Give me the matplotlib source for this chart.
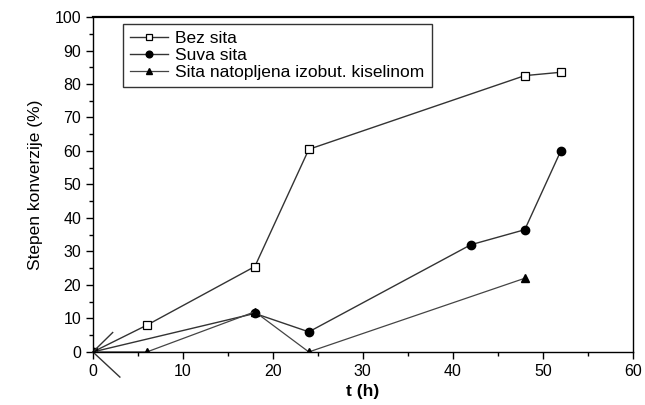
import matplotlib.pyplot as plt
import numpy as np
from matplotlib.ticker import MultipleLocator

plt.rcParams['font.family'] = ['Liberation Sans', 'DejaVu Sans']

# data
t_bez = [0, 6, 18, 24, 48, 52]
y_bez = [0, 8, 25.5, 60.5, 82.5, 83.5]

t_suva = [0, 18, 24, 42, 48, 52]
y_suva = [0, 11.5, 6, 32, 36.5, 60]

t_sita = [0, 6, 18, 24, 48]
y_sita = [0, 0, 12, 0, 22]

labels = ['Bez sita', 'Suva sita', 'Sita natopljena izobut. kiselinom']

fig = plt.figure(figsize=(6.45, 4.05), dpi=100)
ax = fig.add_axes([0.144, 0.131, 0.837, 0.827])

ax.plot(t_bez, y_bez, '-', color='#333333', lw=1.0, marker='s', ms=6,
        mfc='white', mec='black', mew=0.9, label=labels[0])
ax.plot(t_suva, y_suva, '-', color='#333333', lw=1.0, marker='o', ms=6,
        mfc='black', mec='black', label=labels[1])
ax.plot(t_sita, y_sita, '-', color='#444444', lw=0.9, marker='^', ms=6,
        mfc='black', mec='black', label=labels[2])

# little pointer lines at the origin
ax.plot([0, 2.2], [0, 5.8], color='#333333', lw=1.0, clip_on=False)
ax.plot([0, 3.0], [0, -7.5], color='#333333', lw=1.0, clip_on=False)

ax.set_xlim(0, 60)
ax.set_ylim(0, 100)
ax.xaxis.set_major_locator(MultipleLocator(10))
ax.xaxis.set_minor_locator(MultipleLocator(5))
ax.yaxis.set_major_locator(MultipleLocator(10))
ax.yaxis.set_minor_locator(MultipleLocator(5))
ax.tick_params(which='major', direction='out', length=5, width=1, labelsize=11.5)
ax.tick_params(which='minor', direction='out', length=3, width=1)
ax.tick_params(top=False, right=False)
for s in ax.spines.values():
    s.set_linewidth(1.0)
ax.spines['top'].set_linewidth(1.6)

ax.set_xlabel('t (h)', fontsize=12.5, fontweight='bold', labelpad=4)
ax.set_ylabel('Stepen konverzije (%)', fontsize=12.5, labelpad=8)

leg = ax.legend(loc='upper left', bbox_to_anchor=(0.05, 0.99), fontsize=12.5,
                frameon=True, fancybox=False, edgecolor='black',
                handlelength=2.2, handletextpad=0.4, borderpad=0.4,
                labelspacing=0.1, markerscale=0.8, borderaxespad=0.2)
leg.get_frame().set_linewidth(1.0)

fig.savefig('out.png', dpi=100)
